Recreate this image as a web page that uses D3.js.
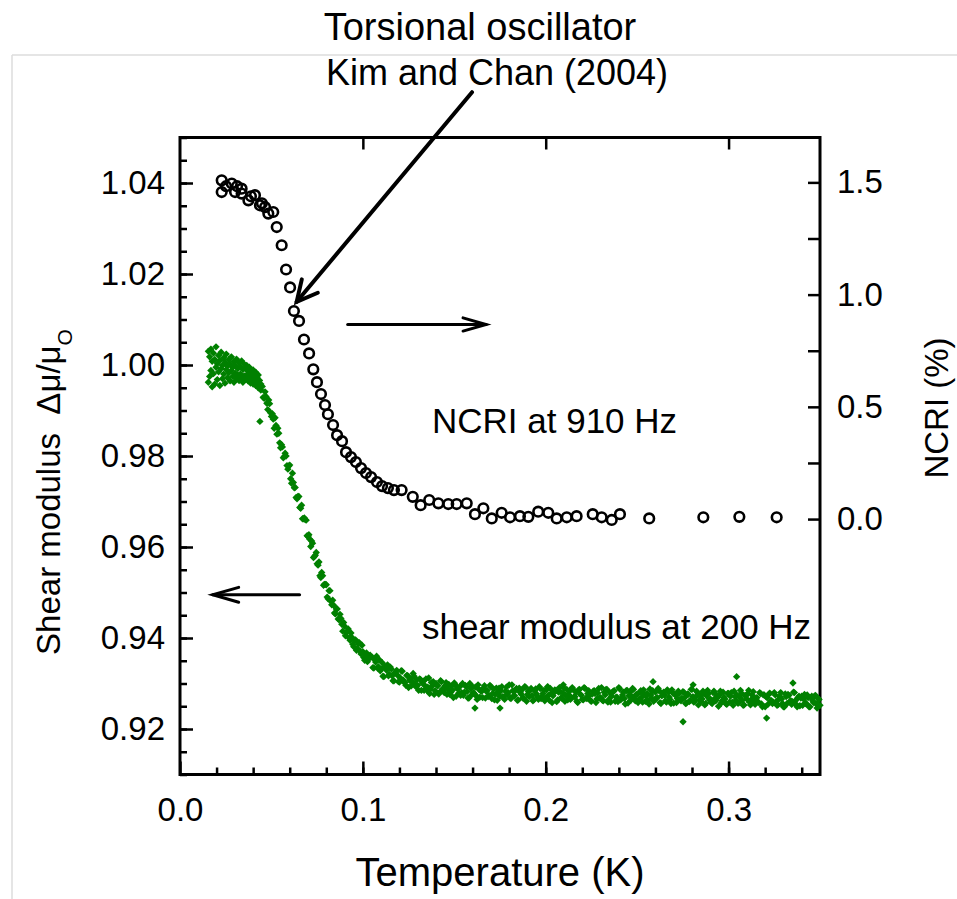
<!DOCTYPE html>
<html>
<head>
<meta charset="utf-8">
<script src="https://cdn.jsdelivr.net/npm/d3@7"></script>
<style>
  body { margin: 0; background: #fff; }
  svg text { font-family: Arial, "Liberation Sans", sans-serif; fill: #000; }
</style>
</head>
<body>
<svg id="chart" width="957" height="899"></svg>
<script>
// tick labels
const tempTicks = [0.0, 0.1, 0.2, 0.3];
const shearTicks = [0.92, 0.94, 0.96, 0.98, 1.00, 1.02, 1.04];
const ncriTicks = [0.0, 0.25, 0.5, 0.75, 1.0, 1.25, 1.5];

// NCRI at 910 Hz  [T (K), NCRI (%)]
const ncriPoints = [
  [0.0228,1.509],[0.0228,1.457],[0.0252,1.483],[0.0283,1.495],[0.0301,1.457],[0.0312,1.483],
  [0.0337,1.472],[0.0337,1.450],[0.0374,1.420],[0.0388,1.438],[0.0410,1.443],[0.0437,1.398],
  [0.0448,1.407],[0.0465,1.390],[0.0483,1.361],[0.0510,1.368],[0.0529,1.301],[0.0556,1.220],
  [0.0580,1.112],[0.0602,1.032],[0.0623,0.927],[0.0651,0.883],[0.0678,0.800],[0.0706,0.738],
  [0.0729,0.667],[0.0749,0.610],[0.0771,0.557],[0.0793,0.508],[0.0809,0.467],[0.0837,0.419],
  [0.0859,0.374],[0.0886,0.347],[0.0908,0.298],[0.0935,0.276],[0.0962,0.254],[0.0990,0.227],
  [0.1017,0.205],[0.1045,0.187],[0.1077,0.165],[0.1105,0.147],[0.1137,0.138],[0.1170,0.129],
  [0.1212,0.129],[0.1273,0.099],[0.1316,0.062],[0.1363,0.085],[0.1413,0.070],[0.1467,0.067],
  [0.1513,0.067],[0.1568,0.070],[0.1613,0.022],[0.1659,0.048],[0.1705,0.003],[0.1759,0.028],
  [0.1805,0.008],[0.1859,0.013],[0.1905,0.010],[0.1959,0.033],[0.2014,0.028],[0.2060,0.003],
  [0.2115,0.008],[0.2169,0.013],[0.2257,0.022],[0.2306,0.008],[0.2361,-0.004],[0.2406,0.022],
  [0.2566,0.003],[0.2862,0.008],[0.3059,0.010],[0.3263,0.008]
];

// shear modulus at 200 Hz  [T (K), mu/mu0]
const shearLow = [
  [0.0155,1.0030],[0.0155,0.9962],[0.0162,1.0018],[0.0162,0.9975],[0.0169,1.0035],[0.0169,0.9988],
  [0.0176,1.0008],[0.0176,0.9952],[0.0183,1.0026],[0.0183,0.9981],[0.0190,1.0012],[0.0190,0.9958],
  [0.0197,1.0040],[0.0197,0.9995],[0.0204,1.0003],[0.0204,0.9968],[0.0211,1.0021],[0.0211,0.9985],
  [0.0218,1.0010],[0.0218,0.9955],[0.0225,1.0028],[0.0225,0.9992],[0.0232,0.9999],[0.0232,0.9970],
  [0.0239,1.0016],[0.0239,0.9980],[0.0246,1.0006],[0.0246,0.9960],[0.0253,1.0024],[0.0253,0.9990],
  [0.0260,0.9998],[0.0260,0.9972],[0.0267,1.0012],[0.0267,0.9983],[0.0274,1.0002],[0.0274,0.9965],
  [0.0281,1.0018],[0.0281,0.9988],[0.0288,0.9995],[0.0288,0.9975],[0.0295,1.0008],[0.0295,0.9962],
  [0.0302,0.9999],[0.0302,0.9982],[0.0309,1.0013],[0.0309,0.9970],[0.0316,0.9992],[0.0316,0.9978],
  [0.0323,1.0005],[0.0323,0.9966],[0.0330,0.9996],[0.0330,0.9980],[0.0337,1.0009],[0.0337,0.9972],
  [0.0344,0.9990],[0.0344,0.9962],[0.0351,1.0002],[0.0351,0.9976],[0.0358,0.9993],[0.0358,0.9968],
  [0.0365,0.9999],[0.0365,0.9978],[0.0372,0.9986],[0.0372,0.9965],[0.0379,0.9995],[0.0379,0.9974],
  [0.0386,0.9988],[0.0386,0.9960],[0.0393,0.9980],[0.0393,0.9970],[0.0400,0.9989],[0.0400,0.9958],
  [0.0407,0.9976],[0.0407,0.9966],[0.0414,0.9984],[0.0414,0.9955],[0.0421,0.9972],[0.0421,0.9962],
  [0.0428,0.9978],[0.0428,0.9950],[0.0435,0.9966],[0.0435,0.9956],[0.0442,0.9958],[0.0442,0.9945]
];

const shearDrop = [
  [0.045,0.9953],[0.046,0.9927],[0.047,0.9931],[0.048,0.9902],[0.049,0.9915],[0.050,0.9887],
  [0.051,0.9881],[0.052,0.9884],[0.053,0.9848],[0.054,0.9850],[0.055,0.9818],[0.056,0.9820],
  [0.057,0.9799],[0.058,0.9800],[0.059,0.9771],[0.060,0.9780],[0.061,0.9740],[0.062,0.9742],
  [0.063,0.9731],[0.064,0.9706],[0.065,0.9711],[0.066,0.9685],[0.067,0.9662],[0.068,0.9664],
  [0.069,0.9659],[0.070,0.9623],[0.071,0.9617],[0.072,0.9613],[0.073,0.9577],[0.074,0.9582],
  [0.075,0.9563],[0.076,0.9567],[0.077,0.9533],[0.078,0.9537],[0.079,0.9518],[0.080,0.9517],
  [0.081,0.9486],[0.082,0.9504],[0.083,0.9473],[0.084,0.9472],[0.085,0.9453],[0.086,0.9464],
  [0.087,0.9440],[0.088,0.9443],[0.089,0.9415],[0.090,0.9426],[0.091,0.9412],[0.092,0.9420],
  [0.093,0.9395],[0.094,0.9401],[0.095,0.9381],[0.096,0.9396],[0.097,0.9377],[0.098,0.9390],
  [0.099,0.9365],[0.100,0.9370],[0.101,0.9351],[0.102,0.9367],[0.103,0.9353],[0.104,0.9362],
  [0.0455,0.9929],[0.0465,0.9941],[0.0475,0.9916],[0.0485,0.9923],[0.0495,0.9895],[0.0505,0.9893],
  [0.0515,0.9861],[0.0525,0.9867],[0.0535,0.9861],[0.0545,0.9829],[0.0555,0.9825],[0.0565,0.9796],
  [0.0575,0.9806],[0.0585,0.9779],[0.0595,0.9778],[0.0605,0.9750],[0.0615,0.9762],[0.0625,0.9730],
  [0.0635,0.9709],[0.0645,0.9711],[0.0655,0.9687],[0.0665,0.9692],[0.0675,0.9662],[0.0685,0.9660],
  [0.0695,0.9625],[0.0705,0.9627],[0.0715,0.9601],[0.0725,0.9608],[0.0735,0.9579],[0.0745,0.9588],
  [0.0755,0.9560],[0.0765,0.9537],[0.0775,0.9544],[0.0785,0.9516],[0.0795,0.9518],[0.0805,0.9490],
  [0.0815,0.9504],[0.0825,0.9481],[0.0835,0.9483],[0.0845,0.9455],[0.0855,0.9464],[0.0865,0.9442],
  [0.0875,0.9452],[0.0885,0.9430],[0.0895,0.9434],[0.0905,0.9405],[0.0915,0.9414],[0.0925,0.9400],
  [0.0935,0.9411],[0.0945,0.9386],[0.0955,0.9395],[0.0965,0.9373],[0.0975,0.9387],[0.0985,0.9371],
  [0.0995,0.9384],[0.1005,0.9357],[0.1015,0.9363],[0.1025,0.9348],[0.1035,0.9360],[0.0437,0.9876]
];

const shearTail = [
  [0.105,0.9358],[0.106,0.9334],[0.107,0.9347],[0.108,0.9334],[0.109,0.9352],[0.110,0.9332],[0.111,0.9316],[0.112,0.9338],[0.113,0.9329],[0.114,0.9317],
  [0.115,0.9336],[0.116,0.9317],[0.117,0.9306],[0.118,0.9323],[0.119,0.9318],[0.120,0.9303],[0.121,0.9328],[0.122,0.9308],[0.123,0.9302],[0.124,0.9318],
  [0.125,0.9291],[0.126,0.9310],[0.127,0.9304],[0.128,0.9316],[0.129,0.9293],[0.130,0.9296],[0.131,0.9310],[0.132,0.9285],[0.133,0.9305],[0.134,0.9295],
  [0.135,0.9285],[0.136,0.9312],[0.137,0.9288],[0.138,0.9295],[0.139,0.9276],[0.140,0.9300],[0.141,0.9295],[0.142,0.9281],[0.143,0.9304],[0.144,0.9286],
  [0.145,0.9295],[0.146,0.9276],[0.147,0.9298],[0.148,0.9280],[0.149,0.9285],[0.150,0.9301],[0.151,0.9272],[0.152,0.9288],[0.153,0.9293],[0.154,0.9280],
  [0.155,0.9274],[0.156,0.9296],[0.157,0.9282],[0.158,0.9268],[0.159,0.9289],[0.160,0.9293],[0.161,0.9277],[0.162,0.9273],[0.163,0.9297],[0.164,0.9270],
  [0.165,0.9283],[0.166,0.9290],[0.167,0.9268],[0.168,0.9285],[0.169,0.9274],[0.170,0.9293],[0.171,0.9278],[0.172,0.9264],[0.173,0.9290],[0.174,0.9281],
  [0.175,0.9272],[0.176,0.9293],[0.177,0.9270],[0.178,0.9283],[0.179,0.9276],[0.180,0.9297],[0.181,0.9267],[0.182,0.9284],[0.183,0.9273],[0.184,0.9289],
  [0.185,0.9264],[0.186,0.9281],[0.187,0.9286],[0.188,0.9268],[0.189,0.9292],[0.190,0.9276],[0.191,0.9271],[0.192,0.9289],[0.193,0.9262],[0.194,0.9284],
  [0.195,0.9277],[0.196,0.9265],[0.197,0.9289],[0.198,0.9272],[0.199,0.9285],[0.200,0.9268],[0.201,0.9293],[0.202,0.9263],[0.203,0.9278],[0.204,0.9273],
  [0.205,0.9286],[0.206,0.9260],[0.207,0.9281],[0.208,0.9282],[0.209,0.9267],[0.210,0.9290],[0.211,0.9274],[0.212,0.9264],[0.213,0.9283],[0.214,0.9269],
  [0.215,0.9287],[0.216,0.9271],[0.217,0.9261],[0.218,0.9286],[0.219,0.9276],[0.220,0.9265],[0.221,0.9291],[0.222,0.9268],[0.223,0.9278],[0.224,0.9274],
  [0.225,0.9261],[0.226,0.9283],[0.227,0.9278],[0.228,0.9266],[0.229,0.9289],[0.230,0.9269],[0.231,0.9263],[0.232,0.9281],[0.233,0.9287],[0.234,0.9259],
  [0.235,0.9280],[0.236,0.9272],[0.237,0.9283],[0.238,0.9261],[0.239,0.9270],[0.240,0.9291],[0.241,0.9264],[0.242,0.9275],[0.243,0.9267],[0.244,0.9284],
  [0.245,0.9257],[0.246,0.9281],[0.247,0.9272],[0.248,0.9287],[0.249,0.9262],[0.250,0.9276],[0.251,0.9265],[0.252,0.9284],[0.253,0.9259],[0.254,0.9277],
  [0.255,0.9273],[0.256,0.9263],[0.257,0.9288],[0.258,0.9268],[0.259,0.9261],[0.260,0.9281],[0.261,0.9269],[0.262,0.9284],[0.263,0.9256],[0.264,0.9278],
  [0.265,0.9274],[0.266,0.9259],[0.267,0.9281],[0.268,0.9265],[0.269,0.9286],[0.270,0.9257],[0.271,0.9275],[0.272,0.9267],[0.273,0.9278],[0.274,0.9262],
  [0.275,0.9282],[0.276,0.9269],[0.277,0.9257],[0.278,0.9276],[0.279,0.9263],[0.280,0.9287],[0.281,0.9259],[0.282,0.9271],[0.283,0.9280],[0.284,0.9264],
  [0.285,0.9260],[0.286,0.9283],[0.287,0.9253],[0.288,0.9273],[0.289,0.9278],[0.290,0.9266],[0.291,0.9256],[0.292,0.9283],[0.293,0.9262],[0.294,0.9269],
  [0.295,0.9275],[0.296,0.9257],[0.297,0.9281],[0.298,0.9266],[0.299,0.9254],[0.300,0.9278],[0.301,0.9272],[0.302,0.9259],[0.303,0.9283],[0.304,0.9263],
  [0.305,0.9257],[0.306,0.9270],[0.307,0.9279],[0.308,0.9252],[0.309,0.9273],[0.310,0.9266],[0.311,0.9285],[0.312,0.9253],[0.313,0.9274],[0.314,0.9259],
  [0.315,0.9268],[0.316,0.9260],[0.317,0.9280],[0.318,0.9255],[0.319,0.9275],[0.320,0.9249],[0.321,0.9269],[0.322,0.9276],[0.323,0.9262],[0.324,0.9256],
  [0.325,0.9280],[0.326,0.9260],[0.327,0.9253],[0.328,0.9272],[0.329,0.9266],[0.330,0.9249],[0.331,0.9277],[0.332,0.9256],[0.333,0.9274],[0.334,0.9262],
  [0.335,0.9260],[0.336,0.9280],[0.337,0.9254],[0.338,0.9269],[0.339,0.9251],[0.340,0.9272],[0.341,0.9266],[0.342,0.9256],[0.343,0.9275],[0.344,0.9249],
  [0.345,0.9269],[0.346,0.9262],[0.347,0.9272],[0.348,0.9255],[0.349,0.9267],[0.350,0.9252]
];

const shearTail2 = [
  [0.1055,0.9335],[0.1065,0.9352],[0.1075,0.9360],[0.1085,0.9337],[0.1095,0.9328],[0.1105,0.9346],[0.1115,0.9315],[0.1125,0.9333],[0.1135,0.9341],[0.1145,0.9320],
  [0.1155,0.9332],[0.1165,0.9306],[0.1175,0.9324],[0.1185,0.9329],[0.1195,0.9304],[0.1205,0.9312],[0.1215,0.9327],[0.1225,0.9303],[0.1235,0.9296],[0.1245,0.9317],
  [0.1255,0.9307],[0.1265,0.9295],[0.1275,0.9322],[0.1285,0.9298],[0.1295,0.9308],[0.1305,0.9285],[0.1315,0.9309],[0.1325,0.9301],[0.1335,0.9285],[0.1345,0.9310],
  [0.1355,0.9292],[0.1365,0.9278],[0.1375,0.9302],[0.1385,0.9304],[0.1395,0.9284],[0.1405,0.9296],[0.1415,0.9277],[0.1425,0.9306],[0.1435,0.9288],[0.1445,0.9280],
  [0.1455,0.9302],[0.1465,0.9288],[0.1475,0.9276],[0.1485,0.9294],[0.1495,0.9269],[0.1505,0.9298],[0.1515,0.9290],[0.1525,0.9279],[0.1535,0.9274],[0.1545,0.9300],
  [0.1555,0.9281],[0.1565,0.9293],[0.1575,0.9268],[0.1585,0.9300],[0.1595,0.9275],[0.1605,0.9280],[0.1615,0.9292],[0.1625,0.9265],[0.1635,0.9287],[0.1645,0.9284],
  [0.1655,0.9269],[0.1665,0.9295],[0.1675,0.9283],[0.1685,0.9271],[0.1695,0.9296],[0.1705,0.9267],[0.1715,0.9288],[0.1725,0.9276],[0.1735,0.9263],[0.1745,0.9290],
  [0.1755,0.9284],[0.1765,0.9271],[0.1775,0.9265],[0.1785,0.9292],[0.1795,0.9280],[0.1805,0.9268],[0.1815,0.9297],[0.1825,0.9273],[0.1835,0.9285],[0.1845,0.9263],
  [0.1855,0.9290],[0.1865,0.9277],[0.1875,0.9268],[0.1885,0.9293],[0.1895,0.9261],[0.1905,0.9283],[0.1915,0.9286],[0.1925,0.9274],[0.1935,0.9264],[0.1945,0.9288],
  [0.1955,0.9271],[0.1965,0.9293],[0.1975,0.9267],[0.1985,0.9278],[0.1995,0.9262],[0.2005,0.9286],[0.2015,0.9274],[0.2025,0.9289],[0.2035,0.9258],[0.2045,0.9280],
  [0.2055,0.9284],[0.2065,0.9264],[0.2075,0.9291],[0.2085,0.9269],[0.2095,0.9279],[0.2105,0.9261],[0.2115,0.9287],[0.2125,0.9276],[0.2135,0.9265],[0.2145,0.9291],
  [0.2155,0.9271],[0.2165,0.9281],[0.2175,0.9258],[0.2185,0.9287],[0.2195,0.9274],[0.2205,0.9264],[0.2215,0.9289],[0.2225,0.9267],[0.2235,0.9284],[0.2245,0.9262],
  [0.2255,0.9277],[0.2265,0.9284],[0.2275,0.9258],[0.2285,0.9279],[0.2295,0.9268],[0.2305,0.9291],[0.2315,0.9262],[0.2325,0.9275],[0.2335,0.9287],[0.2345,0.9265],
  [0.2355,0.9259],[0.2365,0.9281],[0.2375,0.9284],[0.2385,0.9270],[0.2395,0.9260],[0.2405,0.9288],[0.2415,0.9268],[0.2425,0.9281],[0.2435,0.9255],[0.2445,0.9285],
  [0.2455,0.9273],[0.2465,0.9263],[0.2475,0.9289],[0.2485,0.9267],[0.2495,0.9276],[0.2505,0.9258],[0.2515,0.9281],[0.2525,0.9270],[0.2535,0.9286],[0.2545,0.9261],
  [0.2555,0.9278],[0.2565,0.9255],[0.2575,0.9275],[0.2585,0.9284],[0.2595,0.9264],[0.2605,0.9268],[0.2615,0.9289],[0.2625,0.9258],[0.2635,0.9273],[0.2645,0.9281],
  [0.2655,0.9262],[0.2665,0.9286],[0.2675,0.9270],[0.2685,0.9256],[0.2695,0.9279],[0.2705,0.9276],[0.2715,0.9258],[0.2725,0.9283],[0.2735,0.9264],[0.2745,0.9268],
  [0.2755,0.9281],[0.2765,0.9256],[0.2775,0.9277],[0.2785,0.9260],[0.2795,0.9287],[0.2805,0.9271],[0.2815,0.9262],[0.2825,0.9283],[0.2835,0.9253],[0.2845,0.9273],
  [0.2855,0.9266],[0.2865,0.9278],[0.2875,0.9256],[0.2885,0.9285],[0.2895,0.9264],[0.2905,0.9258],[0.2915,0.9280],[0.2925,0.9267],[0.2935,0.9275],[0.2945,0.9250],
  [0.2955,0.9283],[0.2965,0.9262],[0.2975,0.9270],[0.2985,0.9256],[0.2995,0.9278],[0.3005,0.9259],[0.3015,0.9280],[0.3025,0.9252],[0.3035,0.9271],[0.3045,0.9275],
  [0.3055,0.9257],[0.3065,0.9285],[0.3075,0.9263],[0.3085,0.9253],[0.3095,0.9273],[0.3105,0.9278],[0.3115,0.9259],[0.3125,0.9265],[0.3135,0.9282],[0.3145,0.9254],
  [0.3155,0.9269],[0.3165,0.9258],[0.3175,0.9278],[0.3185,0.9249],[0.3195,0.9275],[0.3205,0.9271],[0.3215,0.9254],[0.3225,0.9279],[0.3235,0.9262],[0.3245,0.9259],
  [0.3255,0.9275],[0.3265,0.9252],[0.3275,0.9266],[0.3285,0.9280],[0.3295,0.9256],[0.3305,0.9249],[0.3315,0.9271],[0.3325,0.9276],[0.3335,0.9260],[0.3345,0.9254],
  [0.3355,0.9281],[0.3365,0.9262],[0.3375,0.9249],[0.3385,0.9272],[0.3395,0.9268],[0.3405,0.9252],[0.3415,0.9276],[0.3425,0.9256],[0.3435,0.9269],[0.3445,0.9249],
  [0.3455,0.9272],[0.3465,0.9258],[0.3475,0.9274],[0.3485,0.9255],[0.3495,0.9265]
];

const shearStray = [
  [0.2587,0.9304],[0.2751,0.9216],[0.3044,0.9315],[0.2806,0.9297],[0.3208,0.9224],[0.2096,0.9297],
  [0.2013,0.9292],[0.1750,0.9246],[0.1613,0.9246],[0.3352,0.9301],[0.3484,0.9246]
];

const svg = d3.select("#chart");
const plotLeft = 180, plotRight = 820, plotTop = 137.5, plotBottom = 774.5;

const x = d3.scaleLinear().domain([0, 0.35]).range([plotLeft, plotRight]);
const yL = d3.scaleLinear().domain([0.91, 1.05]).range([plotBottom, plotTop]);
const yR = d3.scaleLinear().domain([-1.138, 1.70]).range([plotBottom, plotTop]);

// faint slide border
svg.append("line").attr("x1", 12).attr("x2", 957).attr("y1", 55).attr("y2", 55)
  .attr("stroke", "#dcdcdc").attr("stroke-width", 1.5);
svg.append("line").attr("x1", 12).attr("x2", 12).attr("y1", 55).attr("y2", 899)
  .attr("stroke", "#dcdcdc").attr("stroke-width", 1.5);

const tickFont = 33;

function styleAxis(g) {
  g.select(".domain").remove();
  g.selectAll(".tick line").attr("stroke", "#000").attr("stroke-width", 2.5);
  g.selectAll(".tick text").style("font-size", tickFont + "px")
    .style("font-family", "Arial, 'Liberation Sans', sans-serif");
}

// left axis (shear modulus)
svg.append("g").attr("transform", `translate(${plotLeft},0)`)
  .call(d3.axisLeft(yL).tickValues(d3.range(0, 29).map(i => 0.91 + i * 0.005)).tickSize(-7).tickFormat(""))
  .call(styleAxis);
svg.append("g").attr("transform", `translate(${plotLeft},0)`)
  .call(d3.axisLeft(yL).tickValues(shearTicks).tickSize(-13).tickPadding(15).tickFormat(d3.format(".2f")))
  .call(styleAxis);

// bottom axis (temperature)
svg.append("g").attr("transform", `translate(0,${plotBottom})`)
  .call(d3.axisBottom(x).tickValues(d3.range(1, 18).map(i => i * 0.02)).tickSize(-7).tickFormat(""))
  .call(styleAxis);
svg.append("g").attr("transform", `translate(0,${plotBottom})`)
  .call(d3.axisBottom(x).tickValues(tempTicks).tickSize(-13).tickPadding(23).tickFormat(d3.format(".1f")))
  .call(styleAxis);

// top axis, ticks only
svg.append("g").attr("transform", `translate(0,${plotTop})`)
  .call(d3.axisTop(x).tickValues(tempTicks.slice(1)).tickSize(-12).tickFormat(""))
  .call(styleAxis);

// right axis (NCRI)
svg.append("g").attr("transform", `translate(${plotRight},0)`)
  .call(d3.axisRight(yR).tickValues(ncriTicks).tickSize(-12).tickPadding(17)
    .tickFormat(d => (Math.round(d * 4) % 2 === 0) ? d3.format(".1f")(d) : ""))
  .call(styleAxis);

// frame
svg.append("rect").attr("x", plotLeft).attr("y", plotTop)
  .attr("width", plotRight - plotLeft).attr("height", plotBottom - plotTop)
  .attr("fill", "none").attr("stroke", "#000").attr("stroke-width", 3);

// shear modulus markers
const diamond = d3.symbol().type(d3.symbolSquare).size(27)();
const shearAll = shearLow.concat(shearDrop, shearTail, shearTail2, shearStray);
svg.append("g").selectAll("path")
  .data(shearAll)
  .join("path")
  .attr("d", diamond)
  .attr("transform", d => `translate(${x(d[0])},${yL(d[1])}) rotate(45)`)
  .attr("fill", "#008000");

// NCRI open circles
svg.append("g").selectAll("circle")
  .data(ncriPoints)
  .join("circle")
  .attr("cx", d => x(d[0]))
  .attr("cy", d => yR(d[1]))
  .attr("r", 4.8)
  .attr("fill", "none")
  .attr("stroke", "#000")
  .attr("stroke-width", 2.6);

// arrows
function arrow(x1, y1, x2, y2, width, barb, angle) {
  const g = svg.append("g").attr("stroke", "#000").attr("stroke-width", width)
    .attr("fill", "none").attr("stroke-linecap", "round");
  g.append("line").attr("x1", x1).attr("y1", y1).attr("x2", x2).attr("y2", y2);
  const a = Math.atan2(y1 - y2, x1 - x2);
  const r = angle * Math.PI / 180;
  const pts = [a - r, a + r].map(t => [x2 + barb * Math.cos(t), y2 + barb * Math.sin(t)]);
  g.append("path").attr("d", `M${pts[0]}L${x2},${y2}L${pts[1]}`)
    .attr("stroke-linejoin", "miter");
}
// torsional oscillator pointer
arrow(x(0.1597), yR(1.902), x(0.0638), yR(0.968), 4, 23, 27);
// NCRI -> right axis
arrow(x(0.0917), yR(0.867), x(0.1674), yR(0.867), 3, 24, 16);
// shear -> left axis
arrow(x(0.0654), yL(0.9495), x(0.0179), yL(0.9495), 3, 27, 16);

// annotation texts
svg.append("text").attr("x", 480).attr("y", 40).attr("text-anchor", "middle")
  .style("font-size", "38px").text("Torsional oscillator");
svg.append("text").attr("x", 497).attr("y", 85).attr("text-anchor", "middle")
  .style("font-size", "36px").text("Kim and Chan (2004)");
svg.append("text").attr("x", 432).attr("y", 433)
  .style("font-size", "35px").text("NCRI at 910 Hz");
svg.append("text").attr("x", 422).attr("y", 639)
  .style("font-size", "35px").text("shear modulus at 200 Hz");

// axis titles
svg.append("text").attr("x", 500).attr("y", 886).attr("text-anchor", "middle")
  .style("font-size", "40px").text("Temperature (K)");

const yTitle = svg.append("text")
  .attr("transform", "translate(60,492) rotate(-90)")
  .attr("text-anchor", "middle")
  .style("font-size", "33px");
yTitle.append("tspan").text("Shear modulus\u00a0\u00a0\u0394\u03bc/\u03bc");
yTitle.append("tspan").attr("baseline-shift", "sub").style("font-size", "21px").text("O");

svg.append("text")
  .attr("transform", "translate(948,408) rotate(-90)")
  .attr("text-anchor", "middle")
  .style("font-size", "33px").text("NCRI (%)");
</script>
</body>
</html>
